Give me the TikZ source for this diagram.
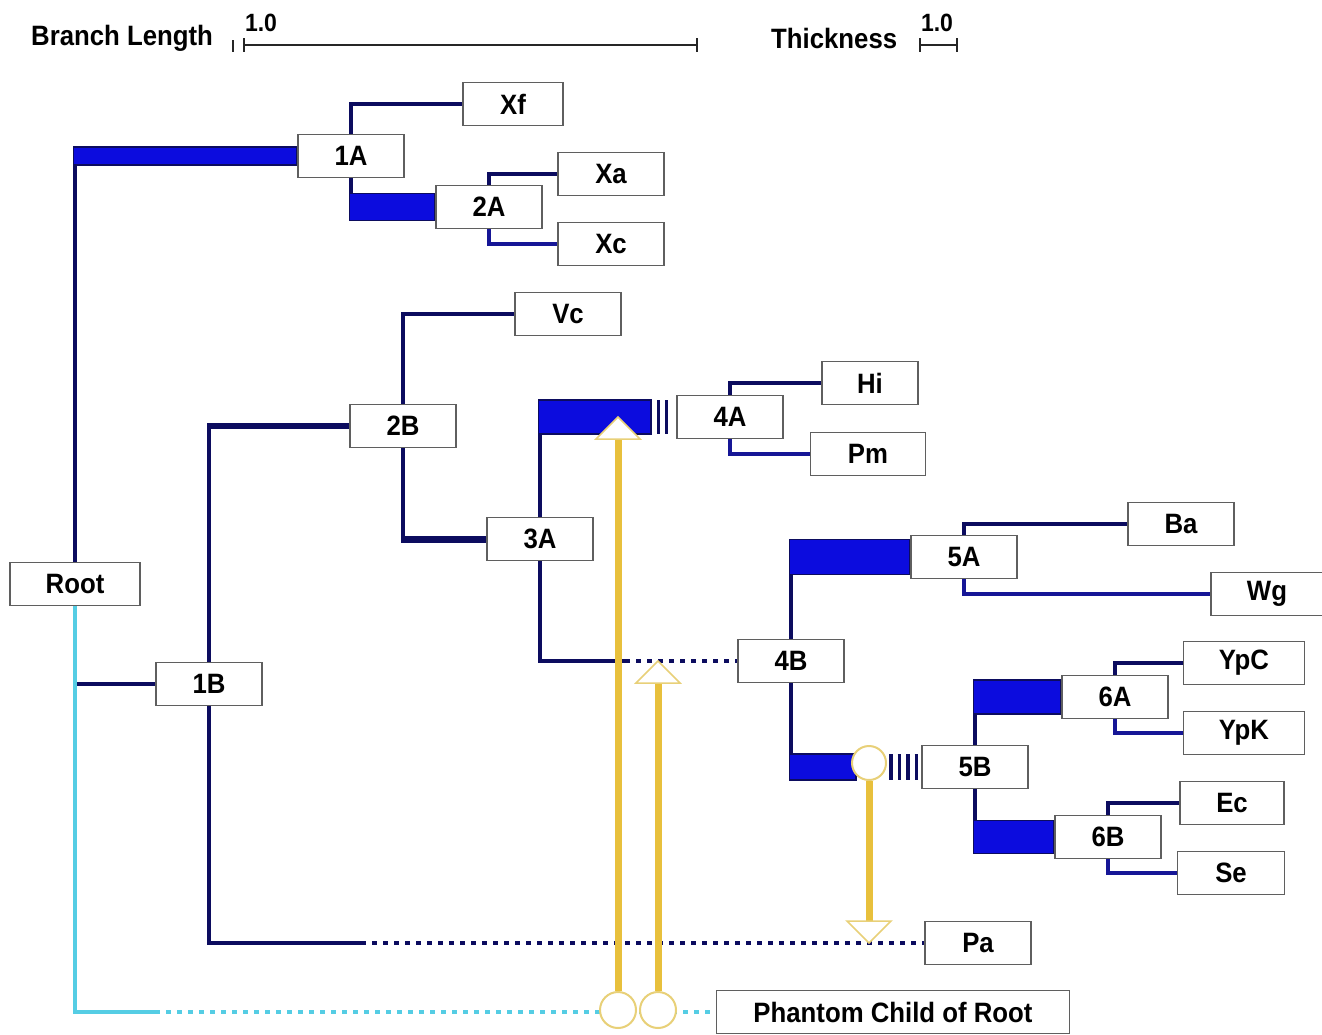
\documentclass[tikz,border=0pt]{standalone}
\usepackage{fontspec}
\setmainfont{Liberation Sans}[FakeStretch=0.92]
\usetikzlibrary{calc}
\pgfdeclarelayer{bg}
\pgfsetlayers{bg,main}
\definecolor{navy}{RGB}{12,12,95}
\definecolor{navyb}{RGB}{22,22,150}
\definecolor{barblue}{RGB}{12,12,222}
\definecolor{cyanl}{RGB}{85,205,228}
\definecolor{gold}{RGB}{232,192,60}
\definecolor{goldl}{RGB}{232,208,120}
\definecolor{boxline}{RGB}{95,95,95}
\tikzset{
  nbox/.style={draw=boxline, line width=1.6pt, fill=white, minimum width=106pt,
    minimum height=43pt, inner sep=0pt, font=\fontsize{28}{30}\selectfont\bfseries},
  conn/.style={draw=navy, line width=3.5pt},
  connb/.style={draw=navyb, line width=3.5pt},
  thickbar/.style={fill=barblue, draw=navy, line width=1.5pt},
  dotline/.style={line width=3.5pt, dash pattern=on 5pt off 6pt},
  cyanline/.style={draw=cyanl, line width=3.5pt},
  arr/.style={draw=gold, line width=7pt},
  ring/.style={circle, draw=goldl, line width=2pt, fill=white, minimum size=36pt, inner sep=0pt},
  arrhead/.style={draw=goldl, line width=1.5pt, fill=white},
  hdr/.style={inner sep=0pt, font=\fontsize{28}{30}\selectfont\bfseries},
  hdrone/.style={inner sep=0pt, font=\fontsize{25}{28}\selectfont\bfseries},
  scaleln/.style={draw=black!85, line width=2pt},
}
\newcommand\tbar[4]{%
  \draw[conn] (#1) -- (#1 |- #2.west);
  \filldraw[thickbar] ($(#1 |- #2.west)+(-1.75,-#3)$) rectangle ($(#2.west)+(#4,#3)$);
}
\begin{document}
\begin{tikzpicture}[x=1pt,y=-1pt]
\begin{pgfonlayer}{bg}
\fill[white] (0,0) rectangle (1322,1034);
\end{pgfonlayer}
\useasboundingbox (0,0) rectangle (1322,1034);

% header
\node[hdr, anchor=west] (bl) at (31,38) {Branch Length};
\node[hdrone] (onea) at (261,23) {1.0};
\draw[scaleln] (233,40) -- (233,52);
\draw[scaleln] (244,38) -- (244,52) (244,45) -- (697,45) (697,38) -- (697,52);
\node[hdr, anchor=west] (th) at (771,38) {Thickness};
\node[hdrone] (oneb) at (937,23) {1.0};
\draw[scaleln] (920,38) -- (920,52) (920,45) -- (957,45) (957,38) -- (957,52);

% nodes
\node[nbox, minimum width=130pt] (Root) at (75,584) {Root};
\node[nbox] (1A) at (351,156) {1A};
\node[nbox, minimum width=100pt] (Xf) at (513,104) {Xf};
\node[nbox] (2A) at (489,207) {2A};
\node[nbox] (Xa) at (611,174) {Xa};
\node[nbox] (Xc) at (611,244) {Xc};
\node[nbox] (Vc) at (568,314) {Vc};
\node[nbox] (2B) at (403,426) {2B};
\node[nbox] (3A) at (540,539) {3A};
\node[nbox] (4A) at (730,417) {4A};
\node[nbox, minimum width=96pt] (Hi) at (870,383) {Hi};
\node[nbox, minimum width=115pt] (Pm) at (868,454) {Pm};
\node[nbox] (1B) at (209,684) {1B};
\node[nbox] (4B) at (791,661) {4B};
\node[nbox] (5A) at (964,557) {5A};
\node[nbox] (Ba) at (1181,524) {Ba};
\node[nbox, minimum width=112pt] (Wg) at (1267,594) {Wg};
\node[nbox, minimum width=121pt] (YpC) at (1244,663) {YpC};
\node[nbox] (6A) at (1115,697) {6A};
\node[nbox, minimum width=121pt] (YpK) at (1244,733) {YpK};
\node[nbox] (5B) at (975,767) {5B};
\node[nbox, minimum width=104pt] (Ec) at (1232,803) {Ec};
\node[nbox] (6B) at (1108,837) {6B};
\node[nbox, minimum width=107pt] (Se) at (1231,873) {Se};
\node[nbox] (Pa) at (978,943) {Pa};
\node[nbox, minimum width=353pt] (Phantom) at (893,1012) {Phantom Child of Root};

\begin{pgfonlayer}{bg}
% root -> 1A
\tbar{Root.north}{1A}{9}{0}
\draw[conn] (1A.north) |- (Xf.west);
\tbar{1A.south}{2A}{13.5}{0}
\draw[conn] (2A.north) |- (Xa.west);
\draw[connb] (2A.south) |- (Xc.west);
% root -> 1B
\draw[conn, line width=4pt] (Root.south |- 1B.west) -- (1B.west);
\draw[conn] (1B.north) -- (1B.north |- 2B.west);
\draw[navy, line width=6pt] ($(1B.north |- 2B.west)+(-1.75,0)$) -- (2B.west);
\coordinate (pa0) at ($(1B.south |- Pa.west)+(152,0)$);
\draw[conn] (1B.south) |- (pa0);
\draw[conn, dotline] (pa0) -- (Pa.west);
% 2B
\draw[conn] (2B.north) |- (Vc.west);
\draw[conn] (2B.south) -- (2B.south |- 3A.west);
\draw[navy, line width=7pt] ($(2B.south |- 3A.west)+(-1.75,0)$) -- (3A.west);
% 3A
\tbar{3A.north}{4A}{17}{-25}
\draw[navy, line width=34pt, dash pattern=on 3pt off 5pt] ($(4A.west)+(-19,0)$) -- ($(4A.west)+(-6,0)$);
\coordinate (c3) at ($(3A.south |- 4B.west)+(85,0)$);
\draw[conn] (3A.south) |- (c3);
\draw[conn, dotline] (c3) -- (4B.west);
% 4A
\draw[conn] (4A.north) |- (Hi.west);
\draw[connb] (4A.south) |- (Pm.west);
% 4B
\tbar{4B.north}{5A}{17.5}{0}
\tbar{4B.south}{5B}{13}{-65}
\draw[navy, line width=26pt, dash pattern=on 3.5pt off 5pt] ($(5B.west)+(-32,0)$) -- ($(5B.west)+(-3,0)$);
% 5A
\draw[conn] (5A.north) |- (Ba.west);
\draw[connb] (5A.south) |- (Wg.west);
% 5B
\tbar{5B.north}{6A}{17}{0}
\tbar{5B.south}{6B}{16.5}{0}
\draw[conn] (6A.north) |- (YpC.west);
\draw[connb] (6A.south) |- (YpK.west);
\draw[conn] (6B.north) |- (Ec.west);
\draw[connb] (6B.south) |- (Se.west);
% phantom
\coordinate (c0) at ($(Root.south |- Phantom.west)+(80,0)$);
\draw[cyanline] (Root.south) |- (c0);
\draw[cyanline, dotline] (c0) -- (Phantom.west);
\end{pgfonlayer}

% yellow moves
\node[ring] (k1) at (618,1010) {};
\node[ring] (k2) at (658,1010) {};
\node[ring, minimum size=34pt] (k3) at (869,763) {};
\coordinate (t1) at (k1 |- 4A.west);
\coordinate (t2) at (k2 |- 4B.west);
\coordinate (t3) at (k3 |- Pa.west);
\draw[arr] (k1.north) -- ($(t1)+(0,21)$);
\filldraw[arrhead] (t1) -- ++(-22,22) -- ++(44,0) -- cycle;
\draw[arr] (k2.north) -- ($(t2)+(0,21)$);
\filldraw[arrhead] (t2) -- ++(-22,22) -- ++(44,0) -- cycle;
\draw[arr] (k3.south) -- ($(t3)+(0,-21)$);
\filldraw[arrhead] (t3) -- ++(-22,-22) -- ++(44,0) -- cycle;
\end{tikzpicture}
\end{document}
